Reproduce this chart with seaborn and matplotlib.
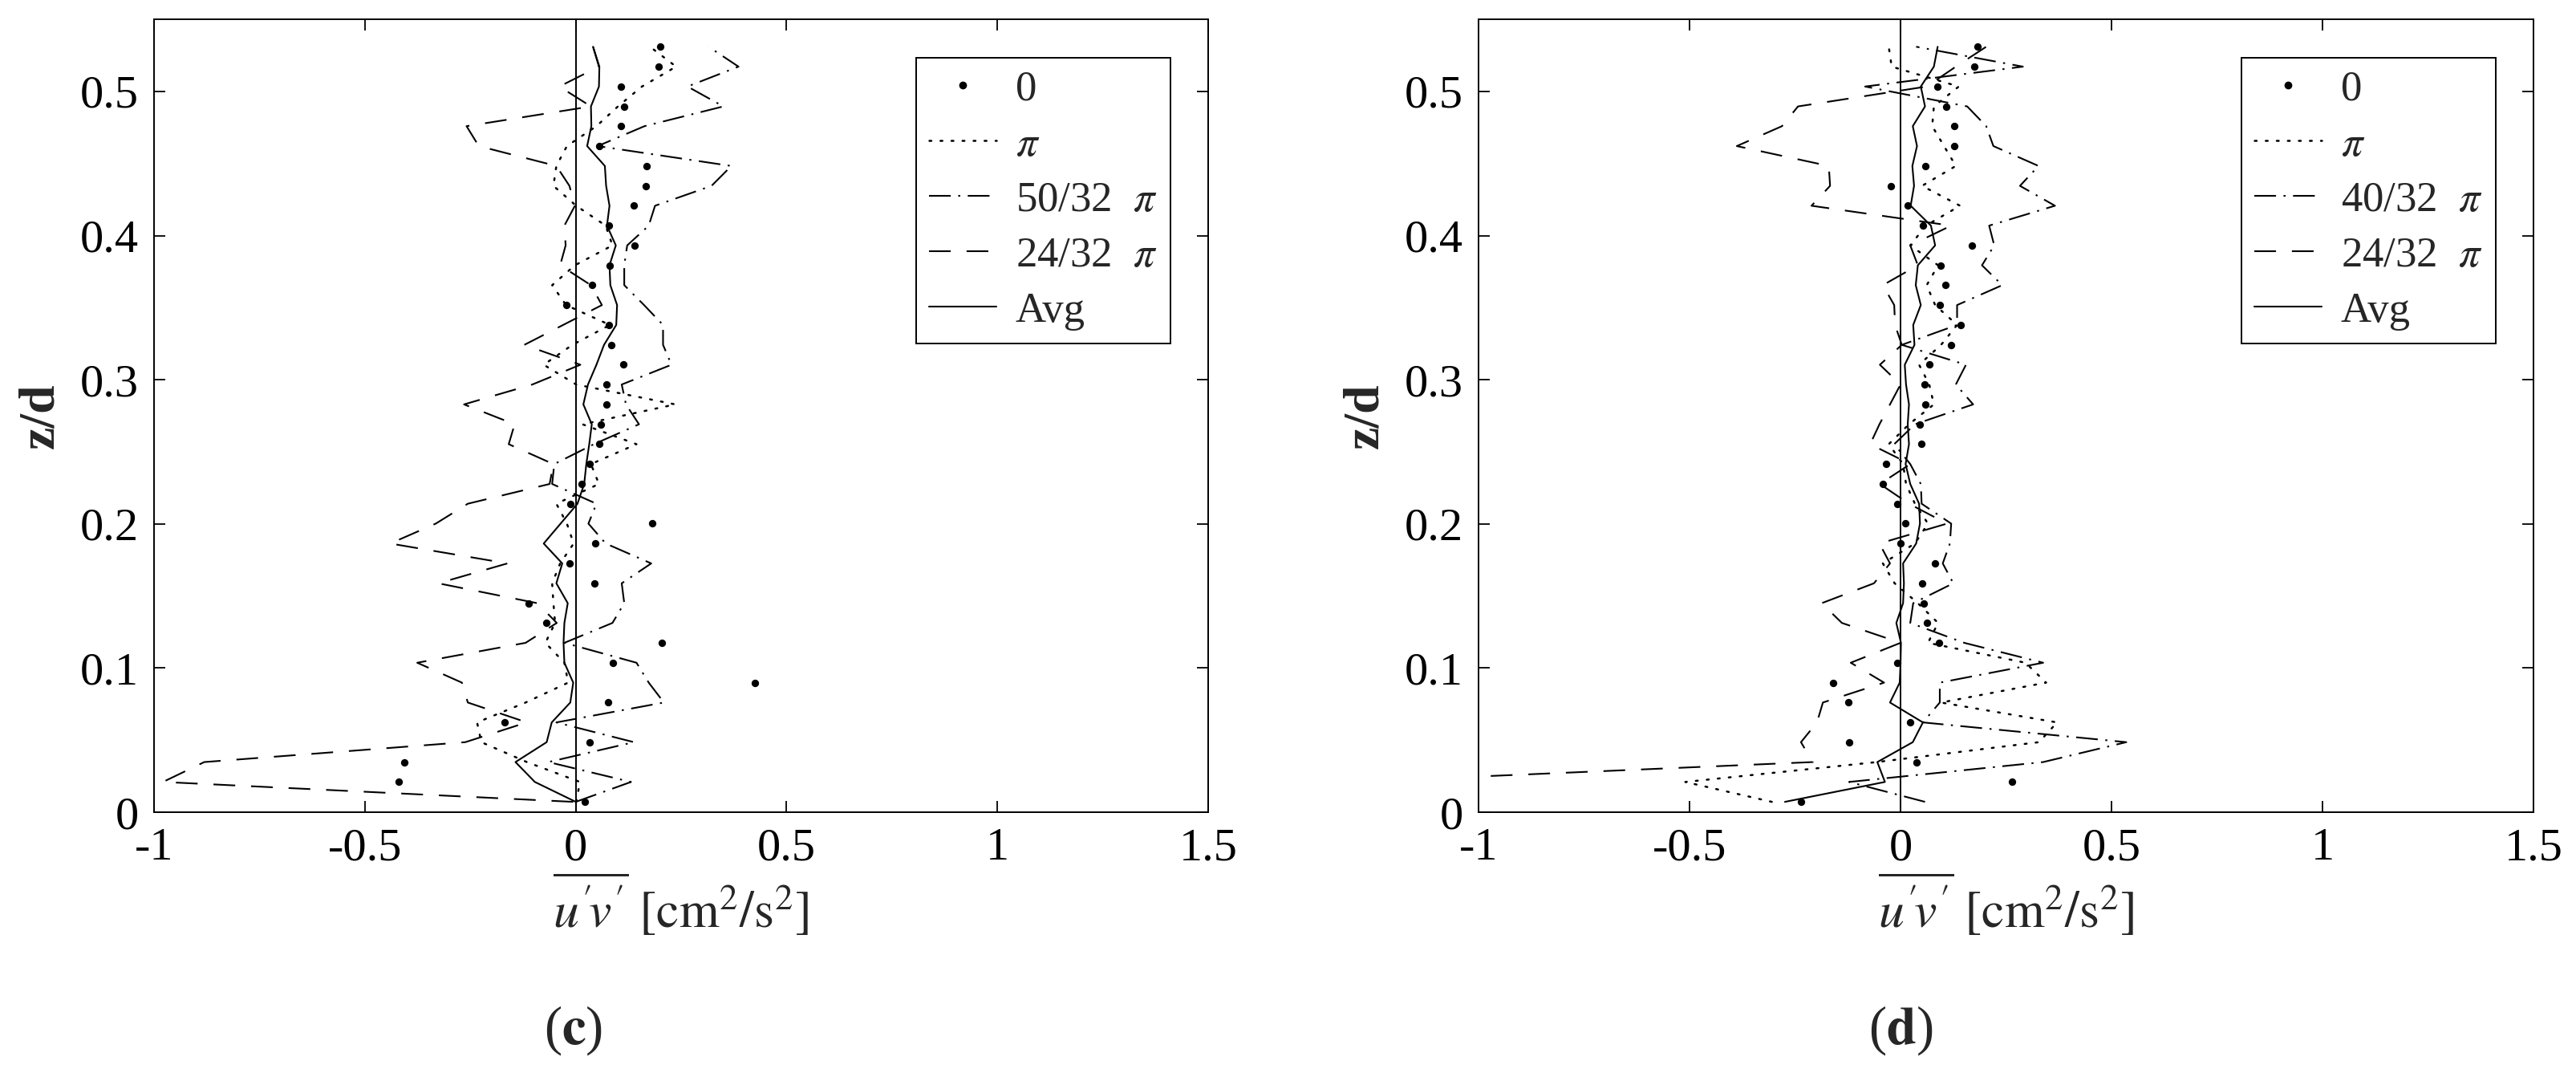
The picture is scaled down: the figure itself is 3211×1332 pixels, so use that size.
import numpy as np
import pandas as pd
import matplotlib
matplotlib.use("Agg")
import matplotlib.pyplot as plt
import seaborn as sns
from matplotlib.lines import Line2D

sns.set_theme(style="ticks")
plt.rcParams.update({
    'font.family': ['Liberation Serif', 'DejaVu Serif'],
    'mathtext.fontset': 'stix',
    'axes.edgecolor': 'black',
    'axes.linewidth': 1.4,
    'xtick.color': 'black',
    'ytick.color': 'black',
})

# measurement heights z/d (shared by both panels)
z_levels = [0.0072, 0.0210, 0.0348, 0.0486, 0.0623, 0.0761, 0.0899, 0.1037, 0.1175, 0.1313,
            0.1450, 0.1588, 0.1726, 0.1864, 0.2002, 0.2140, 0.2277, 0.2415, 0.2553, 0.2691,
            0.2829, 0.2967, 0.3104, 0.3242, 0.3380, 0.3518, 0.3656, 0.3794, 0.3932, 0.4069,
            0.4207, 0.4345, 0.4483, 0.4621, 0.4759, 0.4896, 0.5034, 0.5172, 0.5310]

# panel (c)
dots_c = [0.022, -0.419, -0.407, 0.032, -0.169, 0.077, 0.424, 0.089, 0.204, -0.069,
          -0.112, 0.044, -0.014, 0.046, 0.181, -0.013, 0.014, 0.033, 0.056, 0.060,
          0.072, 0.072, 0.112, 0.085, 0.078, -0.023, 0.039, 0.080, 0.139, 0.079,
          0.137, 0.166, 0.168, 0.055, 0.107, 0.115, 0.107, 0.196, 0.200]
pi_c = [0.001, 0.010, -0.116, -0.224, -0.234, -0.119, -0.018, -0.027, -0.072, -0.049,
        -0.053, -0.056, -0.037, -0.005, -0.021, -0.046, 0.055, 0.036, 0.144, 0.016,
        0.236, 0.001, -0.076, -0.008, 0.081, -0.023, -0.056, -0.002, 0.087, 0.071,
        0.001, -0.053, -0.046, -0.021, 0.049, 0.100, 0.157, 0.238, 0.176]
dashdot_c = [0.000, 0.131, -0.065, 0.138, -0.046, 0.209, 0.173, 0.144, -0.027, 0.087,
             0.115, 0.109, 0.179, 0.071, 0.030, 0.049, -0.056, -0.051, 0.043, 0.150,
             0.119, 0.109, 0.227, 0.207, 0.207, 0.162, 0.115, 0.115, 0.122, 0.173,
             0.188, 0.322, 0.369, 0.052, 0.163, 0.350, 0.265, 0.386, 0.315]
dashed_c = [-0.006, -0.979, -0.881, -0.262, -0.116, -0.256, -0.270, -0.376, -0.119, -0.045,
            -0.091, -0.326, -0.162, -0.440, -0.332, -0.256, -0.062, -0.053, -0.159, -0.145,
            -0.265, -0.103, 0.011, -0.122, -0.030, 0.062, 0.036, -0.037, -0.024, -0.027,
            -0.002, -0.015, -0.046, -0.230, -0.259, 0.036, -0.039, 0.055, 0.041]
avg_c = [0.000, -0.097, -0.143, -0.069, -0.057, -0.013, -0.006, -0.027, -0.029, -0.027,
         -0.019, -0.046, -0.032, -0.076, -0.036, 0.004, 0.020, 0.025, 0.032, 0.038,
         0.018, 0.029, 0.049, 0.067, 0.096, 0.098, 0.082, 0.080, 0.095, 0.074,
         0.080, 0.072, 0.069, 0.027, 0.037, 0.036, 0.055, 0.056, 0.041]

# panel (d)
dots_d = [-0.236, 0.264, 0.038, -0.122, 0.023, -0.124, -0.160, -0.007, 0.091, 0.062,
          0.055, 0.052, 0.082, 0.000, 0.011, -0.008, -0.041, -0.035, 0.049, 0.046,
          0.059, 0.057, 0.069, 0.120, 0.143, 0.093, 0.106, 0.095, 0.169, 0.053,
          0.017, -0.022, 0.059, 0.127, 0.127, 0.109, 0.088, 0.174, 0.182]
pi_d = [-0.305, -0.510, -0.056, 0.328, 0.371, 0.096, 0.345, 0.296, 0.065, 0.089,
        0.041, -0.014, -0.042, 0.034, 0.065, 0.034, 0.013, 0.006, -0.028, 0.020,
        0.079, 0.068, 0.044, 0.096, 0.134, 0.082, 0.062, 0.089, 0.023, 0.060,
        0.141, 0.051, 0.131, 0.103, 0.075, 0.079, 0.138, -0.021, -0.028]
dashdot_d = [0.058, -0.122, 0.338, 0.535, 0.053, 0.093, 0.093, 0.338, 0.151, 0.023,
             0.030, 0.125, 0.100, 0.117, 0.120, 0.050, 0.048, 0.023, -0.015, 0.034,
             0.172, 0.131, 0.155, 0.003, 0.134, 0.134, 0.241, 0.193, 0.222, 0.210,
             0.366, 0.283, 0.327, 0.220, 0.203, 0.158, -0.084, 0.290, 0.037]
dashed_d = [-1.500, -1.300, -0.208, -0.236, -0.198, -0.184, -0.039, -0.118, 0.000, -0.139,
            -0.187, -0.063, -0.025, -0.050, 0.110, 0.020, -0.049, 0.023, -0.072, -0.050,
            -0.025, 0.000, -0.049, 0.003, -0.013, -0.015, -0.042, 0.041, 0.023, 0.120,
            -0.211, -0.167, -0.170, -0.388, -0.281, -0.243, 0.062, 0.131, 0.203]
avg_d = [-0.274, -0.037, -0.055, 0.029, 0.053, -0.025, -0.002, 0.000, 0.001, -0.010,
         0.006, 0.008, 0.006, 0.037, 0.046, 0.044, 0.023, 0.012, 0.020, 0.017,
         0.020, 0.013, 0.010, 0.033, 0.030, 0.048, 0.036, 0.041, 0.082, 0.072,
         0.024, 0.032, 0.028, 0.039, 0.029, 0.058, 0.048, 0.079, 0.088]

x_ticks = [-1, -0.5, 0, 0.5, 1, 1.5]
x_ticklabels = ['-1', '-0.5', '0', '0.5', '1', '1.5']
y_ticks = [0, 0.1, 0.2, 0.3, 0.4, 0.5]
y_ticklabels = ['0', '0.1', '0.2', '0.3', '0.4', '0.5']

LW = 1.5
DOTTED = (0, (1, 4.5))
DASHDOT = (0, (13, 4.5, 1.2, 4.5))
DASHED = (0, (13, 9.5))


def draw_panel(ax, dots, pi_vals, dd_vals, dash_vals, avg_vals, dd_label):
    df = pd.DataFrame({'z': z_levels, 'dots': dots, 'pi': pi_vals,
                       'dd': dd_vals, 'dash': dash_vals, 'avg': avg_vals})
    ax.axvline(0, color='black', lw=1.4, zorder=1)
    sns.lineplot(data=df, x='pi', y='z', sort=False, estimator=None, ax=ax,
                 color='black', lw=1.8, linestyle=DOTTED, dash_capstyle='round')
    sns.lineplot(data=df, x='dd', y='z', sort=False, estimator=None, ax=ax,
                 color='black', lw=LW, linestyle=DASHDOT)
    sns.lineplot(data=df, x='dash', y='z', sort=False, estimator=None, ax=ax,
                 color='black', lw=LW, linestyle=DASHED)
    sns.lineplot(data=df, x='avg', y='z', sort=False, estimator=None, ax=ax,
                 color='black', lw=LW, linestyle='-')
    sns.scatterplot(data=df, x='dots', y='z', ax=ax, color='black', s=45,
                    marker='o', linewidth=0, zorder=5)

    ax.set_xlim(-1, 1.5)
    ax.set_ylim(0, 0.55)
    ax.set_xticks(x_ticks)
    ax.set_xticklabels(x_ticklabels)
    ax.set_yticks(y_ticks)
    ax.set_yticklabels(y_ticklabels)
    ax.tick_params(direction='in', length=10, width=1.3, top=True, right=True,
                   labelsize=42, pad=14)
    for s in ax.spines.values():
        s.set_visible(True)
        s.set_color('black')
    ax.set_xlabel(r"$\overline{u'\!v'}\ [\mathrm{cm}^2/\mathrm{s}^2]$", fontsize=46, labelpad=2)
    ax.set_ylabel('z/d', fontsize=46, fontweight='bold', labelpad=14)

    handles = [
        Line2D([], [], color='black', marker='o', markersize=6, linestyle='None'),
        Line2D([], [], color='black', lw=1.8, linestyle=DOTTED, dash_capstyle='round'),
        Line2D([], [], color='black', lw=LW, linestyle=DASHDOT),
        Line2D([], [], color='black', lw=LW, linestyle=DASHED),
        Line2D([], [], color='black', lw=LW, linestyle='-'),
    ]
    labels = ['0', r'$\pi$', dd_label + r'  $\pi$', r'24/32  $\pi$', 'Avg']
    leg = ax.legend(handles, labels, loc='upper right', fontsize=38, frameon=True,
                    fancybox=False, edgecolor='black', framealpha=1,
                    handlelength=1.6, handletextpad=0.45, labelspacing=0.4,
                    borderpad=0.3, borderaxespad=0.9)
    leg.get_frame().set_linewidth(1.4)


fig = plt.figure(figsize=(32.12, 13.32), dpi=100)
ax_c = fig.add_axes([0.0598, 0.2402, 0.4091, 0.7417])
ax_d = fig.add_axes([0.5738, 0.2402, 0.4094, 0.7417])

draw_panel(ax_c, dots_c, pi_c, dashdot_c, dashed_c, avg_c, '50/32')
draw_panel(ax_d, dots_d, pi_d, dashdot_d, dashed_d, avg_d, '40/32')

fig.text(0.2225, 0.036, r'($\mathbf{c}$)', ha='center', va='center', fontsize=48)
fig.text(0.7376, 0.036, r'($\mathbf{d}$)', ha='center', va='center', fontsize=48)

fig.savefig('out.png', dpi=100, facecolor='white')
